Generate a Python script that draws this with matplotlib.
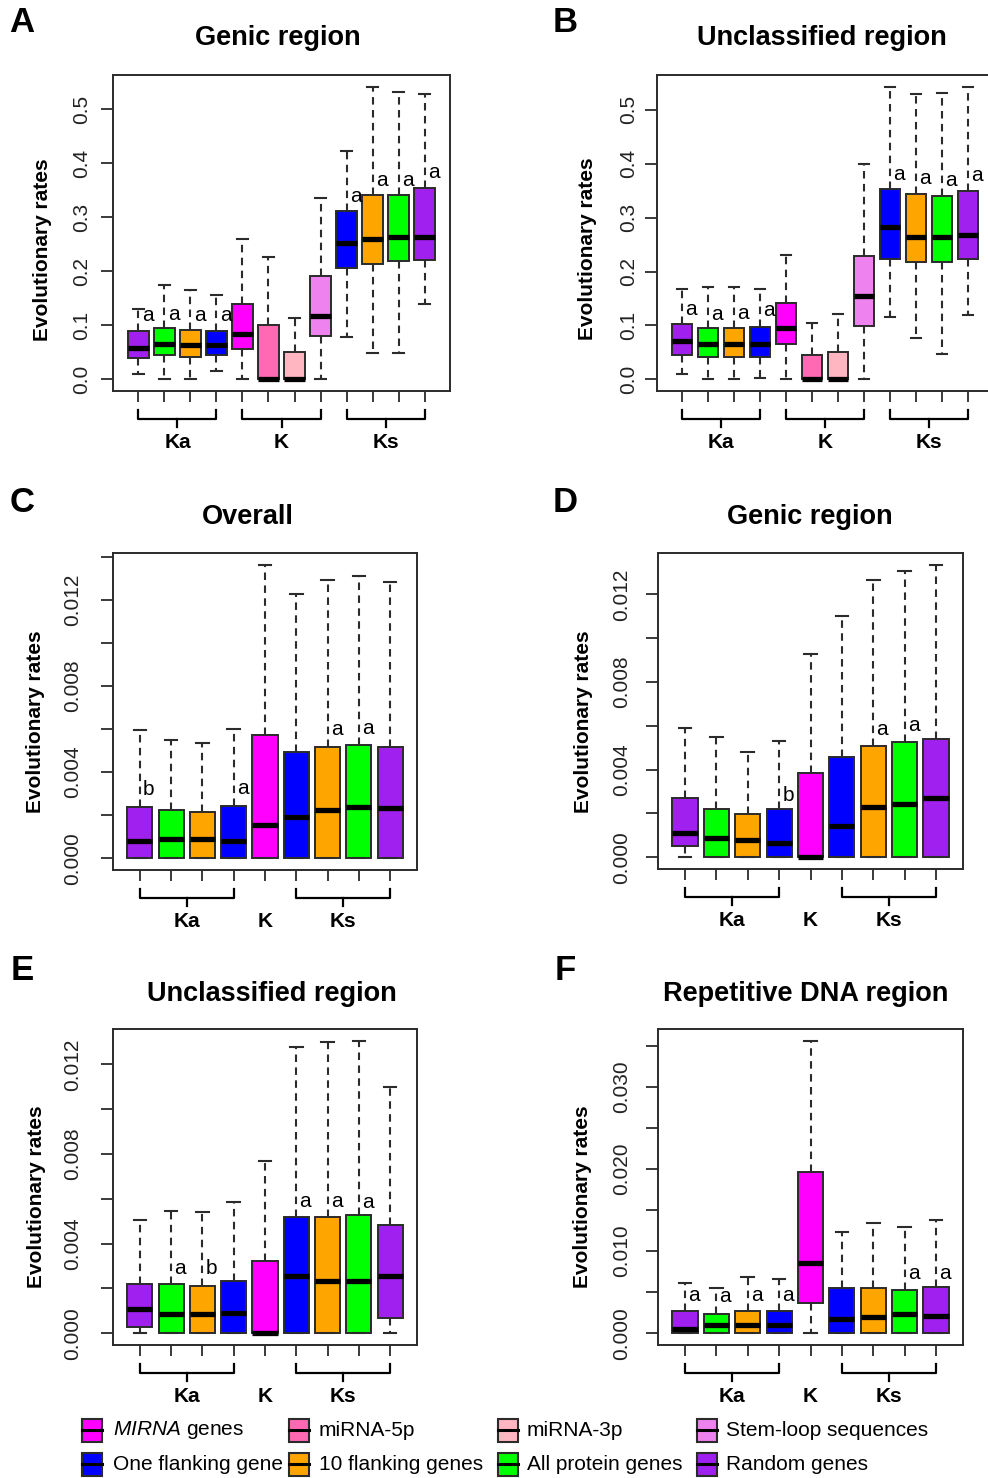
import numpy as np
import matplotlib
matplotlib.use("Agg")
import matplotlib.pyplot as plt
import matplotlib.transforms as mtransforms
from matplotlib.patches import Rectangle
from matplotlib.lines import Line2D

plt.rcParams["font.family"] = ["Liberation Sans", "DejaVu Sans"]
plt.rcParams["mathtext.fontset"] = "custom"
plt.rcParams["mathtext.it"] = "Liberation Sans:italic"
plt.rcParams["mathtext.rm"] = "Liberation Sans"

# ---- series / colours ----
SERIES = ["MIRNA genes", "miRNA-5p", "miRNA-3p", "Stem-loop sequences",
          "One flanking gene", "10 flanking genes", "All protein genes", "Random genes"]
LEGEND_LABELS = [r"$\mathit{MIRNA}$ genes", "miRNA-5p", "miRNA-3p", "Stem-loop sequences",
                 "One flanking gene", "10 flanking genes", "All protein genes", "Random genes"]
COLORS = ["#FF00FF", "#FF69B4", "#FFB6C1", "#EE82EE",
          "#0000FF", "#FFA500", "#00FF00", "#A020F0"]
COLOR = dict(zip(SERIES, COLORS))

ORDER12 = ["Random genes", "All protein genes", "10 flanking genes", "One flanking gene",
           "MIRNA genes", "miRNA-5p", "miRNA-3p", "Stem-loop sequences",
           "One flanking gene", "10 flanking genes", "All protein genes", "Random genes"]
ORDER9 = ["Random genes", "All protein genes", "10 flanking genes", "One flanking gene",
          "MIRNA genes",
          "One flanking gene", "10 flanking genes", "All protein genes", "Random genes"]
GROUPS12 = [(1, 4, "Ka"), (5, 8, "K"), (9, 12, "Ks")]
GROUPS9 = [(1, 4, "Ka"), (5, 5, "K"), (6, 9, "Ks")]

# ---- box statistics: [whisker low, Q1, median, Q3, whisker high] ----
A_stats = [
    [0.010, 0.039, 0.058, 0.089, 0.131],
    [0.000, 0.045, 0.066, 0.095, 0.174],
    [0.000, 0.042, 0.063, 0.091, 0.166],
    [0.015, 0.045, 0.063, 0.089, 0.157],
    [0.000, 0.056, 0.083, 0.139, 0.260],
    [0.000, 0.000, 0.000, 0.100, 0.227],
    [0.000, 0.000, 0.000, 0.051, 0.113],
    [0.000, 0.080, 0.118, 0.192, 0.336],
    [0.078, 0.207, 0.252, 0.312, 0.423],
    [0.048, 0.213, 0.260, 0.342, 0.542],
    [0.048, 0.219, 0.263, 0.342, 0.532],
    [0.139, 0.221, 0.263, 0.355, 0.528],
]
A_letters = [(1, "a", 0.117), (2, "a", 0.120), (3, "a", 0.118), (4, "a", 0.118),
             (9, "a", 0.339), (10, "a", 0.368), (11, "a", 0.368), (12, "a", 0.383)]

B_stats = [
    [0.009, 0.045, 0.071, 0.103, 0.168],
    [0.000, 0.042, 0.065, 0.095, 0.171],
    [0.000, 0.042, 0.065, 0.095, 0.171],
    [0.003, 0.042, 0.065, 0.097, 0.168],
    [0.000, 0.065, 0.095, 0.142, 0.231],
    [0.000, 0.000, 0.000, 0.045, 0.105],
    [0.000, 0.000, 0.000, 0.051, 0.121],
    [0.000, 0.098, 0.154, 0.228, 0.400],
    [0.116, 0.223, 0.282, 0.353, 0.543],
    [0.077, 0.217, 0.264, 0.344, 0.530],
    [0.047, 0.217, 0.264, 0.341, 0.532],
    [0.119, 0.223, 0.267, 0.350, 0.543],
]
B_letters = [(1, "a", 0.130), (2, "a", 0.119), (3, "a", 0.121), (4, "a", 0.127),
             (9, "a", 0.379), (10, "a", 0.373), (11, "a", 0.368), (12, "a", 0.377)]

C_stats = [
    [0, 0, 0.00082, 0.00236, 0.00595],
    [0, 0, 0.00090, 0.00224, 0.00549],
    [0, 0, 0.00090, 0.00213, 0.00535],
    [0, 0, 0.00082, 0.00244, 0.00600],
    [0, 0, 0.00156, 0.00572, 0.01364],
    [0, 0, 0.00193, 0.00496, 0.01226],
    [0, 0, 0.00224, 0.00518, 0.01292],
    [0, 0, 0.00236, 0.00527, 0.01311],
    [0, 0, 0.00232, 0.00518, 0.01286],
]
C_letters = [(1, "b", 0.00317), (4, "a", 0.00321), (7, "a", 0.00597), (8, "a", 0.00604)]

D_stats = [
    [0, 0.00053, 0.00111, 0.00270, 0.00589],
    [0, 0, 0.00088, 0.00220, 0.00551],
    [0, 0, 0.00080, 0.00197, 0.00483],
    [0, 0, 0.00065, 0.00220, 0.00532],
    [0, 0, 0.00000, 0.00387, 0.00928],
    [0, 0, 0.00141, 0.00460, 0.01103],
    [0, 0, 0.00228, 0.00510, 0.01265],
    [0, 0, 0.00243, 0.00525, 0.01308],
    [0, 0, 0.00270, 0.00539, 0.01336],
]
D_letters = [(4, "b", 0.00281), (7, "a", 0.00582), (8, "a", 0.00600)]

E_stats = [
    [0, 0.00027, 0.00107, 0.00220, 0.00506],
    [0, 0, 0.00085, 0.00220, 0.00547],
    [0, 0, 0.00085, 0.00213, 0.00541],
    [0, 0, 0.00092, 0.00233, 0.00584],
    [0, 0, 0.00000, 0.00323, 0.00769],
    [0, 0, 0.00257, 0.00520, 0.01279],
    [0, 0, 0.00235, 0.00520, 0.01298],
    [0, 0, 0.00235, 0.00528, 0.01306],
    [0, 0.00070, 0.00257, 0.00483, 0.01100],
]
E_letters = [(2, "a", 0.00286), (3, "b", 0.00286), (6, "a", 0.00587),
             (7, "a", 0.00587), (8, "a", 0.00582)]

F_stats = [
    [0, 0, 0.00050, 0.00272, 0.00616],
    [0, 0, 0.00100, 0.00235, 0.00547],
    [0, 0, 0.00100, 0.00272, 0.00681],
    [0, 0, 0.00100, 0.00272, 0.00661],
    [0, 0.00365, 0.00860, 0.01967, 0.03560],
    [0, 0, 0.00174, 0.00547, 0.01233],
    [0, 0, 0.00195, 0.00547, 0.01346],
    [0, 0, 0.00235, 0.00527, 0.01298],
    [0, 0, 0.00215, 0.00568, 0.01379],
]
F_letters = [(1, "a", 0.00454), (2, "a", 0.00446), (3, "a", 0.00462), (4, "a", 0.00462),
             (8, "a", 0.00722), (9, "a", 0.00722)]

TITLES = ["Genic region", "Unclassified region", "Overall",
          "Genic region", "Unclassified region", "Repetitive DNA region"]

W, H = 988, 1478
GREY = "#2b2b2b"


def fx(px):
    return px / W


def fy(py):
    return 1 - py / H


def draw_panel(rect, stats, order, groups, letters, step, lab_step, fmt, lab_dist):
    l, t, r, b = rect
    ax = fig.add_axes([fx(l), fy(b), (r - l) / W, (b - t) / H])
    n = len(stats)
    pos = np.arange(1, n + 1)
    bstats = [dict(whislo=s[0], q1=s[1], med=s[2], q3=s[3], whishi=s[4], fliers=[])
              for s in stats]
    res = ax.bxp(bstats, positions=pos, widths=0.8, capwidths=0.4,
                 patch_artist=True, showfliers=False,
                 boxprops=dict(edgecolor=GREY, linewidth=1.4),
                 whiskerprops=dict(color=GREY, linewidth=1.5, linestyle=(0, (3.6, 2.6))),
                 capprops=dict(color=GREY, linewidth=1.5),
                 medianprops=dict(color="black", linewidth=3.8, solid_capstyle="butt"))
    for patch, name in zip(res["boxes"], order):
        patch.set_facecolor(COLOR[name])

    vals = np.array(stats)
    lo, hi = vals.min(), vals.max()
    pad = 0.04 * (hi - lo)
    ax.set_ylim(lo - pad, hi + pad)
    ax.set_xlim(0.5 - 0.04 * n, n + 0.5 + 0.04 * n)

    ticks = np.round(np.arange(0, hi + pad, step), 6)
    labels = [fmt.format(v) if abs(v / lab_step - round(v / lab_step)) < 1e-6 else ""
              for v in ticks]
    ax.set_yticks(ticks, labels, rotation=90, ha="center", va="center", fontsize=15,
                  color="#222222")
    ax.tick_params(axis="y", length=8.6, width=1.3, color=GREY,
                   pad=lab_dist * 0.72 - 8.6)
    ax.set_xticks(pos, [""] * n)
    ax.tick_params(axis="x", length=8, width=1.3, color=GREY)
    for sp in ax.spines.values():
        sp.set_color(GREY)
        sp.set_linewidth(1.4)

    # brackets under the groups
    hpx = b - t
    tr = mtransforms.blended_transform_factory(ax.transData, ax.transAxes)
    y_end, y_bar, y_tick, y_lab = -19 / hpx, -28 / hpx, -36 / hpx, -52 / hpx
    for a, z, name in groups:
        mid = (a + z) / 2
        if z > a:
            ax.add_line(Line2D([a, a, z, z], [y_end, y_bar, y_bar, y_end], transform=tr,
                               color="black", lw=1.6, clip_on=False))
            ax.add_line(Line2D([mid, mid], [y_bar, y_tick], transform=tr,
                               color="black", lw=1.6, clip_on=False))
        ax.text(mid, y_lab, name, transform=tr, ha="center", va="center",
                fontsize=15, fontweight="bold")

    for i, txt, y in letters:
        ax.annotate(txt, (i, y), xytext=(6.5, -3.8), textcoords="offset points",
                    ha="center", va="baseline", fontsize=15)
    return ax


fig = plt.figure(figsize=(W / 100, H / 100), dpi=100)

draw_panel((113, 75, 450, 391), A_stats, ORDER12, GROUPS12, A_letters, 0.1, 0.1, "{:.1f}", 31)
draw_panel((656.5, 75, 993.5, 391), B_stats, ORDER12, GROUPS12, B_letters, 0.1, 0.1, "{:.1f}", 28)
draw_panel((113, 553, 417, 870), C_stats, ORDER9, GROUPS9, C_letters, 0.002, 0.004, "{:.3f}", 40)
draw_panel((658, 553, 963, 869), D_stats, ORDER9, GROUPS9, D_letters, 0.002, 0.004, "{:.3f}", 36)
draw_panel((113, 1029, 417, 1345), E_stats, ORDER9, GROUPS9, E_letters, 0.002, 0.004, "{:.3f}", 40)
draw_panel((658, 1029, 963, 1345), F_stats, ORDER9, GROUPS9, F_letters, 0.005, 0.010, "{:.3f}", 36)

# panel letters, titles, y labels
for letter, (px, py) in zip("ABCDEF", [(22, 22), (565, 22), (22, 502), (565, 502), (22, 970), (565, 970)]):
    fig.text(fx(px), fy(py), letter, ha="center", va="center", fontsize=25, fontweight="bold")
for title, (px, py) in zip(TITLES, [(278, 38), (822, 38), (248, 517), (810, 517), (272, 994), (806, 994)]):
    fig.text(fx(px), fy(py), title, ha="center", va="center", fontsize=19.5, fontweight="bold")
for px, py in [(43, 250), (587, 249), (36, 722), (583, 722), (37, 1197), (582, 1197)]:
    fig.text(fx(px), fy(py), "Evolutionary rates", rotation=90, ha="center", va="center",
             fontsize=15, fontweight="bold")

# legend
sq_x = [82, 289, 498, 697]
tx_x = [113, 319, 527, 726]
row_y = [1430, 1464]
for k, (name, lab) in enumerate(zip(SERIES, LEGEND_LABELS)):
    row, col = divmod(k, 4)
    cy = row_y[row]
    fig.add_artist(Rectangle((fx(sq_x[col]), fy(cy + 11.5)), 20 / W, 23 / H,
                             transform=fig.transFigure, facecolor=COLOR[name],
                             edgecolor=GREY, lw=1.5))
    fig.add_artist(Line2D([fx(sq_x[col]), fx(sq_x[col] + 20)], [fy(cy), fy(cy)],
                          transform=fig.transFigure, color="black", lw=2.2))
    fig.text(fx(tx_x[col]), fy(cy), lab, ha="left", va="center", fontsize=15)

fig.savefig("out.png", dpi=100)
